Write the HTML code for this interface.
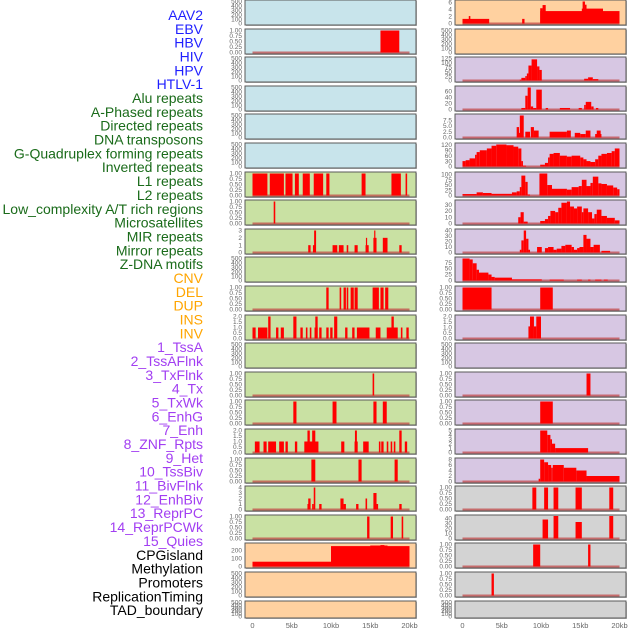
<!DOCTYPE html>
<html><head><meta charset="utf-8">
<style>
html,body{margin:0;padding:0;background:#fff;}
body{width:630px;height:630px;overflow:hidden;font-family:"Liberation Sans",sans-serif;}
svg{display:block;}
</style></head>
<body>
<svg id="chart" width="630" height="630" xmlns="http://www.w3.org/2000/svg"></svg>
<script>
const trackLabels = ["AAV2","EBV","HBV","HIV","HPV","HTLV-1","Alu repeats","A-Phased repeats","Directed repeats","DNA transposons","G-Quadruplex forming repeats","Inverted repeats","L1 repeats","L2 repeats","Low_complexity A/T rich regions","Microsatellites","MIR repeats","Mirror repeats","Z-DNA motifs","CNV","DEL","DUP","INS","INV","1_TssA","2_TssAFlnk","3_TxFlnk","4_Tx","5_TxWk","6_EnhG","7_Enh","8_ZNF_Rpts","9_Het","10_TssBiv","11_BivFlnk","12_EnhBiv","13_ReprPC","14_ReprPCWk","15_Quies","CPGisland","Methylation","Promoters","ReplicationTiming","TAD_boundary"];
const labelGroups = ["v","v","v","v","v","v","r","r","r","r","r","r","r","r","r","r","r","r","r","s","s","s","s","s","c","c","c","c","c","c","c","c","c","c","c","c","c","c","c","o","o","o","o","o"];
const xTickLabels = ["0","5kb","10kb","15kb","20kb"];
const xTickValues = [0,5,10,15,20];

const E = "0 100 200 300 400 500";
const T1 = "0.00 0.25 0.50 0.75 1.00";
const T2 = "0.0 0.5 1.0 1.5 2.0";

const leftTicks = [E,T1,E,E,E,E,T1,T1,"0 1 2 3",E,T1,T2,E,T1,T1,T2,T1,"0 1 2 3 4",T1,"0 100 200",E,E];
const leftMax = [500,1,500,500,500,500,1,1,3,500,1,2,500,1,1,2,1,4,1,275,500,500];
const leftFill = ["#c8e4eb","#c8e4eb","#c8e4eb","#c8e4eb","#c8e4eb","#c8e4eb","#c9e1a3","#c9e1a3","#c9e1a3","#c9e1a3","#c9e1a3","#c9e1a3","#c9e1a3","#c9e1a3","#c9e1a3","#c9e1a3","#c9e1a3","#c9e1a3","#c9e1a3","#ffd1a0","#ffd1a0","#ffd1a0"];
const leftSegs = [
 null,
 [[16.3,18.7,1]],
 null,null,null,null,
 [[0,1.9,1],[2.2,4.0,1],[4.2,5.1,1],[5.4,5.9,1],[6.4,7.3,1],[7.8,9.0,1],[9.4,9.8,1],[13.9,14.4,1],[17.7,18.9,1],[19.5,19.7,1]],
 [[2.7,2.9,1]],
 [[7.1,7.4,1],[7.7,8.0,1],[7.85,8.1,3],[10.2,10.8,1],[11.0,11.6,1],[12.0,12.2,1],[13.0,13.4,1],[14.4,14.8,1],[14.45,14.6,2],[15.4,15.8,2],[15.5,15.65,3],[16.6,17.2,2],[18.7,19.0,1]],
 null,
 [[9.4,9.7,1],[11.1,11.3,1],[11.6,11.9,1],[12.0,12.2,1],[12.5,12.9,1],[13.0,13.4,1],[15.3,16.1,1],[16.3,16.7,1],[16.9,17.3,1]],
 [[0,0.4,1],[0.7,1.9,1],[2.0,2.3,2],[3.0,3.3,1],[3.6,4.0,1],[5.2,5.6,2],[6.1,6.4,1],[6.8,7.0,1],[7.3,7.5,1],[7.9,8.3,1],[8.0,8.3,2],[8.5,8.8,1],[9.4,9.7,1],[9.9,10.2,1],[10.4,10.8,2],[11.8,12.1,1],[12.7,13.0,1],[13.3,14.9,1],[15.7,16.3,1],[17.1,18.5,1],[17.7,18.0,2],[18.9,19.1,1],[19.6,19.9,1]],
 null,
 [[15.3,15.5,1]],
 [[5.2,5.6,1],[10.2,10.7,1],[15.4,15.8,1],[16.6,17.1,1]],
 [[0.3,0.9,1],[1.4,1.8,1],[2.0,3.0,1],[3.4,4.0,1],[4.2,4.5,1],[5.4,5.7,1],[6.6,8.4,1],[7.0,7.3,2],[7.6,8.0,2],[11.3,11.7,1],[13.0,13.4,1],[13.05,13.3,2],[14.1,14.8,1],[16.1,16.3,1],[16.4,16.7,1],[17.1,17.3,1],[17.6,17.8,1],[18.0,18.2,1],[18.7,19.0,2],[19.4,19.7,1]],
 [[7.5,8.0,1],[13.5,13.9,1],[18.1,18.5,1]],
 [[7.0,7.3,1],[7.1,7.4,2],[7.6,7.8,1],[7.8,8.0,4],[8.5,8.8,1],[11.2,11.6,2],[11.6,11.9,1],[13.2,13.5,1],[14.4,14.6,2],[15.4,15.8,3],[15.8,16.0,1],[18.7,19.0,1]],
 [[14.6,14.9,1],[17.6,17.9,1],[19.0,19.2,1]],
 [[0,10,60],[10,20,255],[15,17.2,262],[16.3,16.8,268]],
 null,null
];

const rightTicks = ["0 2 4 6",E,"0 25 50 75 100 125","0 20 40 60","0.0 2.5 5.0 7.5","0 30 60 90 120","0 25 50 75 100","0 10 20 30","0 10 20 30 40","0 25 50 75",T1,T2,E,T1,T1,"0 1 2 3 4 5","0 2 4 6 8",T1,"0 10 20 30 40",T1,T1,E];
const rightMax = [6.2,500,125,72,9.5,122,105,35,40,92,1,2,500,1,1,5,8,1,44,1,1,500];
const rightFill = ["#ffd1a0","#ffd1a0","#d7c7e3","#d7c7e3","#d7c7e3","#d7c7e3","#d7c7e3","#d7c7e3","#d7c7e3","#d7c7e3","#d7c7e3","#d7c7e3","#d7c7e3","#d7c7e3","#d7c7e3","#d7c7e3","#d7c7e3","#d3d3d3","#d3d3d3","#d3d3d3","#d3d3d3","#d3d3d3"];
const rightSegs = [
 [[0,3.4,1.3],[0.8,1.0,2.1],[7.6,7.9,1.3],[9.9,20,3.5],[9.9,10.2,4.3],[10.2,10.6,5.2],[15.2,17.9,4.2],[15.3,15.6,6.2],[15.6,15.8,5.3]],
 null,
 [[7.3,7.5,5],[7.5,8.0,15],[8.0,8.2,25],[8.2,8.4,40],[8.4,8.8,85],[8.8,9.5,120],[9.5,9.8,80],[9.8,10.1,60],[15.5,16.0,10],[16.0,16.6,18],[16.6,17.3,8]],
 [[7.5,8.0,5],[8.0,8.3,45],[8.3,8.7,72],[8.7,9.0,10],[9.0,9.4,5],[9.4,10.1,65],[10.6,10.9,5],[12.4,13.7,5],[14.8,15.2,5],[15.5,15.7,15],[15.7,16.4,25],[16.4,16.7,10],[17.0,17.3,5]],
 [[6.9,7.2,4.5],[7.2,7.3,2],[7.3,7.8,9.5],[8.0,8.6,2.5],[8.7,9.1,4.5],[9.1,9.7,3],[11.1,13.3,2.5],[13.3,13.8,3],[14.3,15.0,2],[15.0,15.7,1.5],[15.7,16.3,3],[16.9,17.7,1.5],[17.1,17.6,3]],
 [[0,0.4,30],[0.4,0.9,35],[0.9,1.6,45],[1.6,1.8,65],[1.8,2.2,80],[2.2,3.1,90],[3.1,3.7,100],[3.7,4.3,115],[4.3,5.6,122],[5.6,6.5,118],[6.5,7.1,110],[7.1,7.5,100],[7.5,7.7,30],[7.7,8.1,5],[9.9,10.5,10],[10.5,10.9,20],[10.9,11.1,50],[11.1,11.6,70],[11.6,12.4,75],[12.4,13.3,60],[13.3,13.9,55],[13.9,15.0,60],[15.0,15.4,50],[15.4,15.8,40],[15.8,16.3,30],[16.3,16.9,25],[16.9,17.3,40],[17.3,17.7,60],[17.7,18.4,70],[18.4,19.0,75],[19.0,19.4,85],[19.4,20,100]],
 [[0,1.8,7],[1.8,2.6,15],[2.6,3.7,12],[3.7,6.3,8],[6.3,6.9,15],[6.9,7.3,20],[7.3,7.5,40],[7.5,8.0,95],[8.0,8.3,65],[8.3,8.6,5],[9.8,10.8,105],[10.8,11.4,50],[11.4,13.3,32],[13.3,13.9,28],[13.9,14.8,40],[14.8,15.2,45],[15.2,15.8,75],[15.8,16.3,45],[16.3,16.6,60],[16.6,17.3,90],[17.3,17.7,58],[17.7,18.4,55],[18.4,19.2,48],[19.2,19.7,38],[19.7,20,30]],
 [[7.1,7.4,10],[7.4,7.8,18],[7.8,8.3,3],[9.9,10.5,4],[10.5,10.9,7],[10.9,11.2,12],[11.2,11.8,20],[11.8,12.2,18],[12.2,12.6,25],[12.6,13.3,33],[13.3,13.7,35],[13.7,14.2,27],[14.2,14.6,24],[14.6,15.2,27],[15.2,15.4,18],[15.4,16.0,24],[16.0,16.5,18],[16.5,16.8,8],[16.8,17.1,15],[17.1,17.7,22],[17.7,18.4,12],[18.4,19.4,9],[19.4,20,5]],
 [[7.3,7.5,5],[7.5,7.8,22],[7.8,8.1,40],[8.1,8.4,25],[8.4,8.6,5],[9.5,10.1,10],[10.5,10.9,8],[10.9,11.6,10],[11.6,12.0,5],[12.0,12.6,7],[12.6,13.1,12],[13.1,13.9,14],[13.9,14.2,10],[14.2,14.6,5],[14.6,14.9,8],[14.9,15.4,10],[15.4,15.8,32],[15.8,16.3,25],[16.3,16.7,10],[16.7,17.5,14],[17.7,18.8,3]],
 [[0,0.9,92],[0.9,1.3,88],[1.3,1.8,72],[1.8,2.1,45],[2.1,3.3,33],[3.3,3.7,25],[3.7,4.1,15],[4.1,6.3,12],[6.3,10.1,5],[11.1,12.9,4],[14.6,15.2,4],[16.0,16.3,4],[16.9,17.7,4],[18.0,18.5,4]],
 [[0,3.7,1],[9.9,11.5,1]],
 [[8.4,8.6,1.1],[8.6,9.1,2],[9.1,9.4,1.1],[9.4,10.0,2]],
 null,
 [[15.8,16.3,1]],
 [[9.9,11.5,1]],
 [[9.9,10.8,5],[10.8,11.2,4],[11.2,11.4,3],[11.4,11.8,2],[11.8,16.0,1]],
 [[9.7,9.9,1],[9.9,10.4,8],[10.4,10.9,7],[10.9,11.3,6],[11.3,11.5,5],[11.5,12.9,6],[12.9,14.5,5],[14.5,15.8,4],[15.8,20,2]],
 [[8.9,9.4,1],[10.4,10.9,1],[11.6,12.2,1],[14.4,15.2,1],[18.7,19.2,1]],
 [[10.2,10.9,38],[11.6,12.2,45],[14.4,15.2,33],[18.7,19.2,45]],
 [[9.0,9.9,1],[16.0,16.3,1]],
 [[3.7,4.0,1]],
 null
];

const NS = "http://www.w3.org/2000/svg";
const svg = document.getElementById("chart");
function mk(tag, attrs, parent){
  const e = document.createElementNS(NS, tag);
  for (const k in attrs) e.setAttribute(k, attrs[k]);
  (parent||svg).appendChild(e);
  return e;
}

// track labels
const colorMap = {v:"#1f1fff", r:"#1a6b1a", s:"#ffa500", c:"#a23ef2", o:"#000000"};
trackLabels.forEach((t,i)=>{
  const tx = mk("text",{x:203,y:15+i*13.84+5,"text-anchor":"end","font-size":"14",fill:colorMap[labelGroups[i]],"font-family":"Liberation Sans, sans-serif"});
  tx.textContent = t;
  
  
});

const KB = 7.85;
function rowTop(i){ return Math.round(i*28.6); }
function rowH(i){ return i===21 ? 17 : 25; }

function drawPanel(side, i, ticksStr, vmax, fill, segs){
  const L = side==="left" ? 245 : 455;
  const W = 171;
  const T = rowTop(i), H = rowH(i), B = T + H;
  const x0 = L + 7.5;
  const xs = kb => x0 + kb*KB;
  const pad = 1.5;
  const ys = v => B - pad - (v/vmax)*(H - 2*pad);
  const g = mk("g",{});
  
  
  mk("rect",{x:L+1,y:T+1,width:W,height:H,fill:"#bbbbbb"},g);
  const bg = mk("rect",{x:L,y:T,width:W,height:H,fill:fill,stroke:"#5a5a5a","stroke-width":1},g);
  
  
  // ticks
  ticksStr.split(" ").forEach(s=>{
    const v = parseFloat(s);
    const t = mk("text",{x:L-3,y:ys(v)+2.2,"text-anchor":"end","font-size":"6.5",fill:"#666"},g);
    t.textContent = s;
    
    
  });
  if (segs){
    const bl = mk("line",{x1:xs(0),x2:xs(20),y1:ys(0),y2:ys(0),stroke:"#c04040","stroke-width":2,"stroke-opacity":0.7},g);
    
    
    segs.forEach(sg=>{
      const x1 = xs(sg[0]), x2 = xs(sg[1]);
      const y1 = ys(sg[2]), y2 = ys(0);
      const r = mk("rect",{x:x1,y:y1,width:Math.max(1.2,x2-x1),height:Math.max(0,y2-y1),fill:"#ff0000"},g);
      
      
    });
  }
}

for (let i=0;i<22;i++){
  drawPanel("left", i, leftTicks[i], leftMax[i], leftFill[i], leftSegs[i]);
  drawPanel("right", i, rightTicks[i], rightMax[i], rightFill[i], rightSegs[i]);
}

// x axes
["left","right"].forEach(side=>{
  const x0 = (side==="left"?245:455) + 7.5;
  xTickValues.forEach((v,j)=>{
    const t = mk("text",{x:x0+v*KB,y:628,"text-anchor":"middle","font-size":"7.5",fill:"#666"});
    t.textContent = xTickLabels[j];
    
    
  });
});
</script>
</body></html>
